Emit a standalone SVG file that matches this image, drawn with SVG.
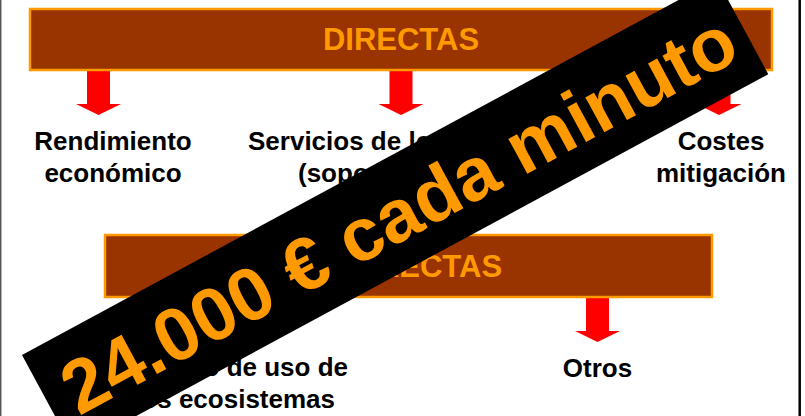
<svg xmlns="http://www.w3.org/2000/svg" xmlns:xlink="http://www.w3.org/1999/xlink" width="805" height="416" viewBox="0 0 805 416">
<style>
.box{fill:#993300;stroke:#FF9900;stroke-width:2.5}
.head{font-family:"Liberation Sans",Arial,sans-serif;font-weight:bold;font-size:31px;fill:#FF9900;text-anchor:middle}
.lbl{font-family:"Liberation Sans",Arial,sans-serif;font-weight:bold;font-size:26px;fill:#000000}
.arr{fill:#FF0000}
.banner-text{font-family:"Liberation Sans",Arial,sans-serif;font-weight:bold;font-size:75px;fill:#FF9900}
</style>
<defs>
<path id="arrow" class="arr" d="M-11.5,0 H11.5 V34 H22.5 L0,45 L-22.5,34 H-11.5 Z"/>
</defs>
<rect x="0" y="0" width="805" height="416" fill="#FFFFFF"/>
<line x1="0.7" y1="0" x2="0.7" y2="416" stroke="#555555" stroke-width="1.5"/>
<line x1="799.7" y1="0" x2="799.7" y2="416" stroke="#000000" stroke-width="2.5"/>

<g id="connectors">
<use xlink:href="#arrow" x="98.5" y="70"/>
<use xlink:href="#arrow" x="401" y="70"/>
<use xlink:href="#arrow" x="719" y="70"/>
<use xlink:href="#arrow" x="234" y="297"/>
<use xlink:href="#arrow" x="597.5" y="297"/>
</g>

<g id="directas">
<rect class="box" x="30" y="9" width="742" height="61"/>
<text class="head" x="401" y="50">DIRECTAS</text>
</g>
<g id="indirectas">
<rect class="box" x="105" y="235" width="607" height="62"/>
<text class="head" x="408.5" y="277">INDIRECTAS</text>
</g>

<g id="rendimiento">
<text class="lbl" text-anchor="middle" x="113" y="150">Rendimiento</text>
<text class="lbl" text-anchor="middle" x="113" y="182">económico</text>
</g>
<g id="servicios">
<text class="lbl" x="248" y="150">Servicios de los ecosistemas</text>
<text class="lbl" x="298" y="182">(soporte de vida)</text>
</g>
<g id="costes">
<text class="lbl" text-anchor="middle" x="721" y="150">Costes</text>
<text class="lbl" text-anchor="middle" x="721" y="182">mitigación</text>
</g>
<g id="cambio">
<text class="lbl" text-anchor="end" x="348" y="376">Cambio de uso de</text>
<text class="lbl" text-anchor="end" x="335" y="408">los ecosistemas</text>
</g>
<g id="otros">
<text class="lbl" text-anchor="middle" x="597.5" y="377">Otros</text>
</g>

<g id="banner" transform="translate(22,355) rotate(-28.4)">
<rect x="0" y="0" width="790" height="108" fill="#000000"/>
<text class="banner-text" x="21" y="81">24.000 € cada minuto</text>
</g>
</svg>
